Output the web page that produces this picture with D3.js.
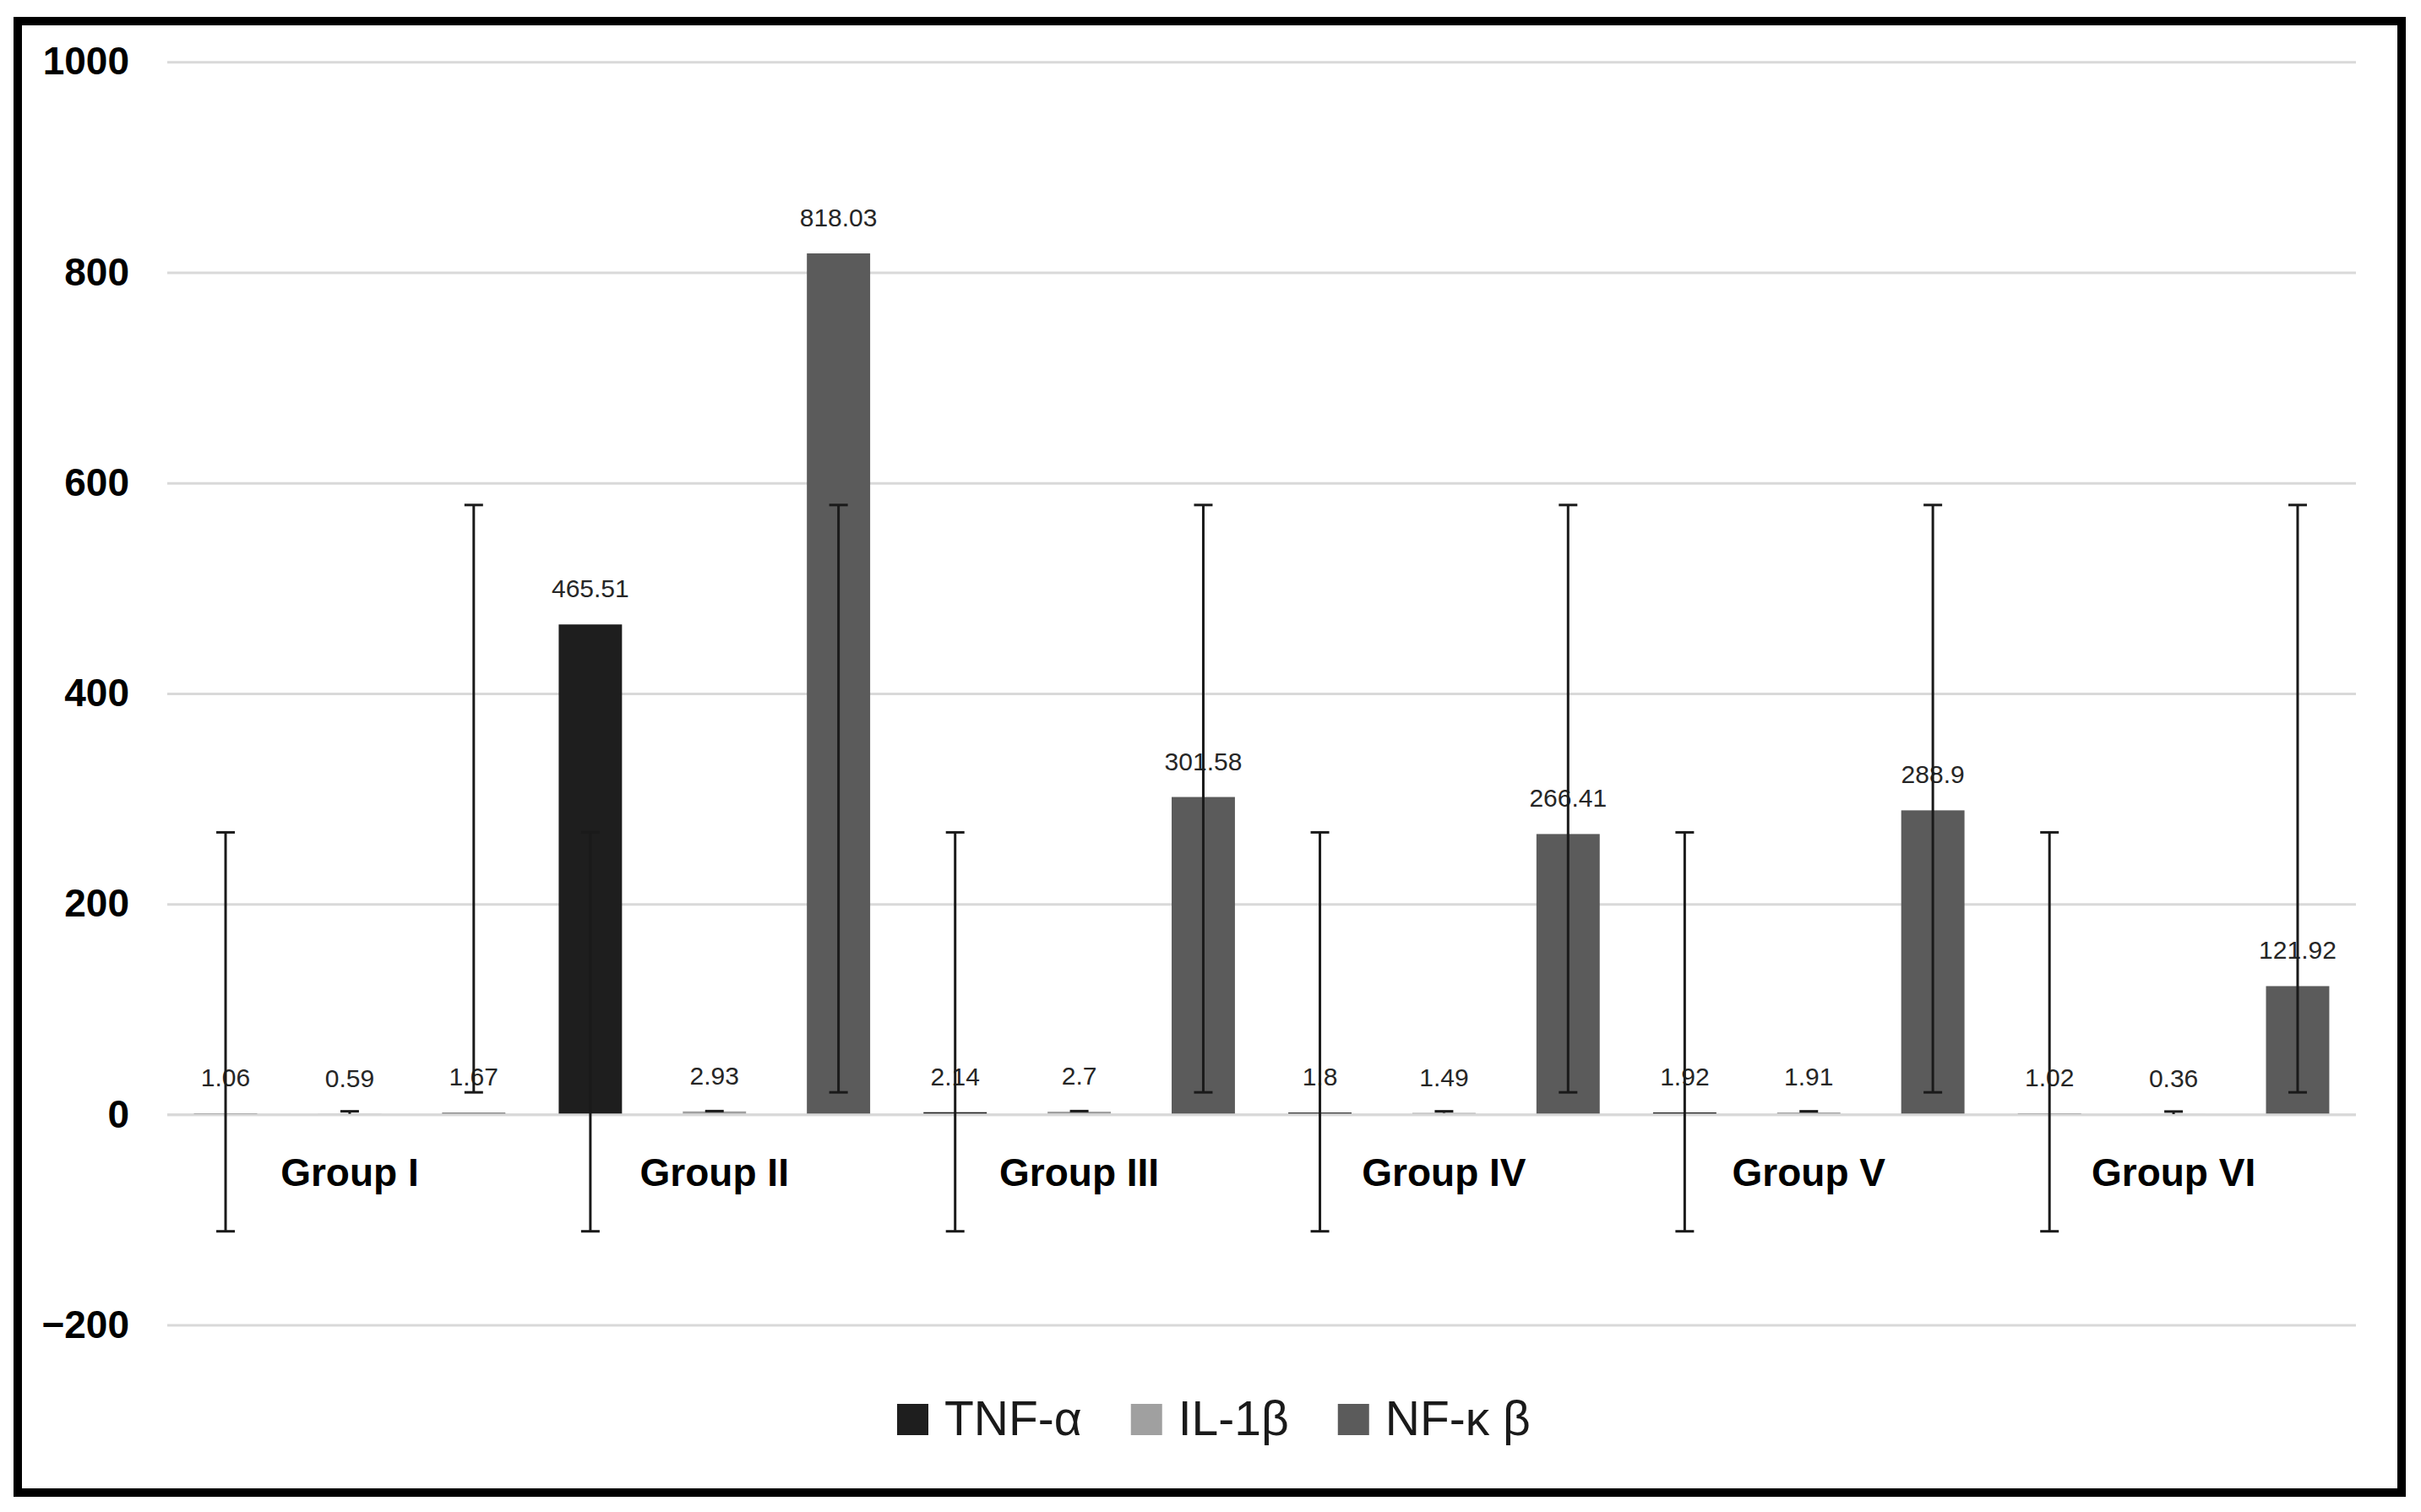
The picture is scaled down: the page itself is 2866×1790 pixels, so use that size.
<!DOCTYPE html>
<html>
<head>
<meta charset="utf-8">
<script src="https://cdn.jsdelivr.net/npm/d3@7"></script>
<style>
  html, body { margin: 0; padding: 0; background: #ffffff; }
  svg { display: block; }
</style>
</head>
<body>
<svg id="chart" width="2866" height="1790"></svg>
<script>
// ---- data ----
const groups = ["Group I", "Group II", "Group III", "Group IV", "Group V", "Group VI"];
const seriesNames = ["TNF-α", "IL-1β", "NF-κ β"];
const tnfValues = [1.06, 465.51, 2.14, 1.8, 1.92, 1.02];
const il1bValues = [0.59, 2.93, 2.7, 1.49, 1.91, 0.36];
const nfkbValues = [1.67, 818.03, 301.58, 266.41, 288.9, 121.92];
const tnfErrLow = [-111, -111, -111, -111, -111, -111];
const tnfErrHigh = [268, 268, 268, 268, 268, 268];
const il1bErrLow = [0.59, 2.93, 2.7, 1.49, 1.91, 0.36];
const il1bErrHigh = [3.0, 3.2, 3.2, 3.0, 3.0, 2.8];
const nfkbErrLow = [21, 21, 21, 21, 21, 21];
const nfkbErrHigh = [579, 579, 579, 579, 579, 579];
const yTicks = [-200, 0, 200, 400, 600, 800, 1000];
const seriesColors = ["#1e1e1e", "#a0a0a0", "#5b5b5b"];

const seriesValues = [tnfValues, il1bValues, nfkbValues];
const seriesLow = [tnfErrLow, il1bErrLow, nfkbErrLow];
const seriesHigh = [tnfErrHigh, il1bErrHigh, nfkbErrHigh];

const rows = [];
groups.forEach((g, gi) => {
  seriesNames.forEach((s, si) => {
    rows.push({ group: g, series: s, si: si, value: seriesValues[si][gi],
                low: seriesLow[si][gi], high: seriesHigh[si][gi] });
  });
});

// ---- layout ----
const svg = d3.select("#chart");
const plotLeft = 198, plotRight = 2789, plotTop = 73.2, plotBottom = 1568.6;

const y = d3.scaleLinear().domain([-200, 1000]).range([plotBottom, plotTop]);
const x0 = d3.scaleBand().domain(groups).range([plotLeft, plotRight]).padding(0);
const x1 = d3.scaleBand().domain(seriesNames).range([0, x0.bandwidth()])
  .paddingInner(0.49).paddingOuter(0.215);
const color = d3.scaleOrdinal().domain(seriesNames).range(seriesColors);

// background
svg.append("rect").attr("x", 0).attr("y", 0).attr("width", 2866).attr("height", 1790).attr("fill", "#fff");

// gridlines
const grid = svg.append("g").attr("transform", `translate(${plotLeft},0)`)
  .call(d3.axisRight(y).tickValues(yTicks).tickSize(plotRight - plotLeft).tickFormat(""));
grid.select(".domain").remove();
grid.selectAll("line").attr("stroke", "#d9d9d9").attr("stroke-width", 3);

// y axis labels
const yAxis = svg.append("g").attr("transform", `translate(${plotLeft},0)`)
  .call(d3.axisLeft(y).tickValues(yTicks).tickSize(0).tickPadding(45)
    .tickFormat(d => d < 0 ? "\u2212" + Math.abs(d) : String(d)));
yAxis.select(".domain").remove();
yAxis.selectAll("text")
  .attr("font-family", "'Liberation Sans', Arial, sans-serif")
  .attr("font-weight", "bold").attr("font-size", 46).attr("fill", "#000");

// bars
const barsG = svg.append("g");
barsG.selectAll("rect").data(rows).join("rect")
  .attr("x", d => x0(d.group) + x1(d.series))
  .attr("width", x1.bandwidth())
  .attr("y", d => Math.min(y(d.value), y(0)))
  .attr("height", d => Math.abs(y(0) - y(d.value)))
  .attr("fill", d => color(d.series));

// zero baseline drawn over the bars (as in the reference)
const zeroGrid = svg.append("g").attr("transform", `translate(${plotLeft},0)`)
  .call(d3.axisRight(y).tickValues([0]).tickSize(plotRight - plotLeft).tickFormat(""));
zeroGrid.select(".domain").remove();
zeroGrid.selectAll("line").attr("stroke", "#d9d9d9").attr("stroke-width", 3);

// data labels
svg.append("g").selectAll("text").data(rows).join("text")
  .attr("x", d => x0(d.group) + x1(d.series) + x1.bandwidth() / 2)
  .attr("y", d => y(Math.max(d.value, 0)) - 32)
  .attr("text-anchor", "middle")
  .attr("font-family", "'Liberation Sans', Arial, sans-serif")
  .attr("font-size", 30).attr("fill", "#262626")
  .text(d => d.value);

// error bars
const capW = 22;
const errG = svg.append("g").attr("stroke", "#1a1a1a").attr("stroke-width", 3);
rows.forEach(d => {
  const cx = x0(d.group) + x1(d.series) + x1.bandwidth() / 2;
  errG.append("line").attr("x1", cx).attr("x2", cx).attr("y1", y(d.low)).attr("y2", y(d.high));
  if (d.high !== d.value) errG.append("line").attr("x1", cx - capW / 2).attr("x2", cx + capW / 2).attr("y1", y(d.high)).attr("y2", y(d.high));
  if (d.low !== d.value) errG.append("line").attr("x1", cx - capW / 2).attr("x2", cx + capW / 2).attr("y1", y(d.low)).attr("y2", y(d.low));
});

// group labels
const xAxis = svg.append("g").attr("transform", `translate(0,${y(0)})`)
  .call(d3.axisBottom(x0).tickSize(0));
xAxis.select(".domain").remove();
xAxis.selectAll("text")
  .attr("y", 85).attr("dy", 0)
  .attr("font-family", "'Liberation Sans', Arial, sans-serif")
  .attr("font-weight", "bold").attr("font-size", 46).attr("fill", "#000");

// legend
const legend = svg.append("g");
let lx = 1062;
const sq = 37, ly = 1662;
seriesNames.forEach((s, i) => {
  legend.append("rect").attr("x", lx).attr("y", ly).attr("width", sq).attr("height", sq).attr("fill", color(s));
  const t = legend.append("text").attr("x", lx + sq + 19).attr("y", ly + sq)
    .attr("font-family", "'Liberation Sans', Arial, sans-serif")
    .attr("font-size", 57).attr("fill", "#1a1a1a").text(s);
  lx = lx + sq + 19 + t.node().getComputedTextLength() + 58;
});

// outer border
svg.append("rect").attr("x", 21).attr("y", 25).attr("width", 2822).attr("height", 1742)
  .attr("fill", "none").attr("stroke", "#000").attr("stroke-width", 10);
</script>
</body>
</html>
